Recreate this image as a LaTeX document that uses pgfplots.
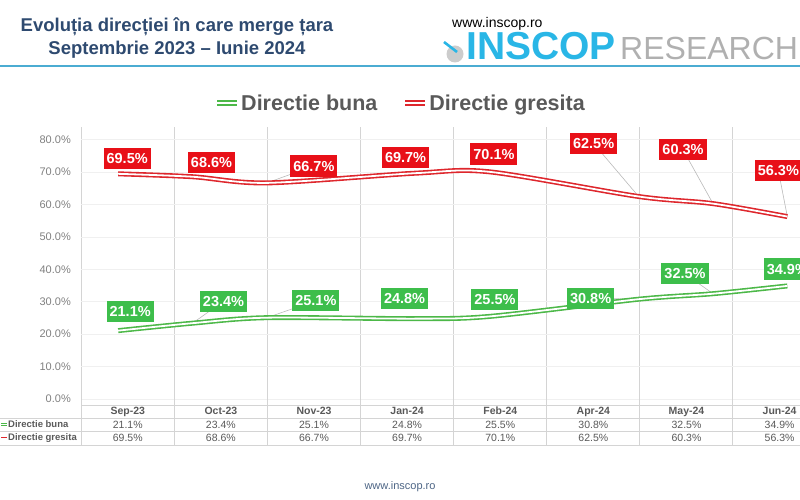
\documentclass[border=0pt]{standalone}
\usepackage{pgfplots}
\pgfplotsset{compat=1.18}
\usepackage{pgfplotstable}
\usepackage{fontspec}
\setmainfont{Liberation Sans}

\definecolor{titleblue}{RGB}{46,74,112}
\definecolor{cyanlogo}{RGB}{41,182,230}
\definecolor{headline}{RGB}{75,172,210}
\definecolor{redline}{RGB}{222,38,44}
\definecolor{redlab}{RGB}{232,16,24}
\definecolor{greenline}{RGB}{76,184,72}
\definecolor{greenlab}{RGB}{61,190,75}
\definecolor{txtgray}{RGB}{89,89,89}
\definecolor{tickgray}{RGB}{128,128,128}
\definecolor{sepgray}{RGB}{212,212,212}

% m = luni de la Sep-23; dx, dy = deplasarea etichetei (pt); lead = linie de legatura
\pgfplotstableread{
m v dx dy lead
0 21.1 12 19 0
1 23.4 31 22 1
2 25.1 49 17 1
4 24.8 -11 20 0
5 25.5 5 17 0
7 30.8 -48 1 1
8 32.5 -28 20 1
9 34.9 0 17 0
}\buna
\pgfplotstableread{
m v dx dy lead
0 69.5 9 15 0
1 68.6 19 14 0
2 66.7 47 17 1
4 69.7 -10 16 0
5 70.1 4 18 0
7 62.5 -45 53 1
8 60.3 -30 54 1
9 56.3 -9 46 1
}\gresita

\begin{document}
\begin{tikzpicture}[x=1pt,y=1pt]
\useasboundingbox (0,0) rectangle (800,500);

% antet
\node[anchor=base, inner sep=0pt, text=titleblue, font=\fontsize{18.5}{21}\selectfont\bfseries] at (177,468) {Evoluția direcției în care merge țara};
\node[anchor=base, inner sep=0pt, text=titleblue, font=\fontsize{18.5}{21}\selectfont\bfseries] at (177,445) {Septembrie 2023 – Iunie 2024};
\node[anchor=base west, inner sep=0pt, font=\fontsize{14}{16}\selectfont] at (452,472) {www.inscop.ro};
\fill[gray!40] (455,446) circle (8.5);
\draw[cyanlogo, line width=2.6pt] (444,458) -- (457,448);
\node[anchor=base west, inner sep=0pt, text=cyanlogo, font=\fontsize{39}{42}\selectfont\bfseries] at (466,440) {INSCOP};
\node[anchor=base west, inner sep=0pt, text=gray!62, font=\fontsize{32}{36}\selectfont] at (620,440) {RESEARCH};
\draw[headline, line width=2pt] (0,433.5) -- (800,433.5);

\begin{axis}[
  at={(81pt,101pt)}, anchor=south west,
  scale only axis, width=745pt, height=272.16pt,
  xmin=-0.5, xmax=9.52, ymin=0, ymax=84,
  clip=false,
  axis line style={draw=none},
  tick style={draw=none},
  ytick={0,10,...,80},
  yticklabel={\pgfmathprintnumber[fixed,fixed zerofill,precision=1]{\tick}\%},
  /pgf/number format/assume math mode=true,
  yticklabel style={inner sep=0pt, xshift=-10pt, text=tickgray, font=\fontsize{11}{13}\selectfont},
  ymajorgrids, major grid style={color=gray!12, line width=0.8pt},
  xtick={0.129,1.381,2.634,3.886,5.139,6.391,7.644,8.896},
  xticklabels={
    {\textbf{Sep-23}\\21.1\%\\69.5\%},
    {\textbf{Oct-23}\\23.4\%\\68.6\%},
    {\textbf{Nov-23}\\25.1\%\\66.7\%},
    {\textbf{Jan-24}\\24.8\%\\69.7\%},
    {\textbf{Feb-24}\\25.5\%\\70.1\%},
    {\textbf{Apr-24}\\30.8\%\\62.5\%},
    {\textbf{May-24}\\32.5\%\\60.3\%},
    {\textbf{Jun-24}\\34.9\%\\56.3\%}},
  xticklabel style={align=center, anchor=north, inner sep=0pt, yshift=-8pt, text=txtgray, font=\fontsize{10.5}{13.5}\selectfont},
  minor xtick={-0.5,0.7525,2.005,3.2575,4.51,5.7625,7.015,8.2675,9.52},
  xminorgrids, minor grid style={color=sepgray, line width=0.8pt},
  legend columns=2,
  legend style={at={(0.4282,1.0876)}, anchor=center, draw=none, fill=none,
    font=\fontsize{21.5}{24}\selectfont\bfseries, text=txtgray,
    nodes={inner sep=1pt},
    /tikz/every even column/.append style={column sep=24pt}},
  legend image code/.code={\draw[#1, line width=2pt, double distance=2pt] (0pt,0pt) -- (20pt,0pt);},
]
% linii de legatura
\addplot[forget plot, gray!55, line width=0.6pt,
  quiver={u=\thisrow{dx}*\thisrow{lead}/74.33, v=\thisrow{dy}*\thisrow{lead}/3.24}]
  table[x=m, y=v] {\buna};
\addplot[forget plot, gray!55, line width=0.6pt,
  quiver={u=\thisrow{dx}*\thisrow{lead}/74.33, v=\thisrow{dy}*\thisrow{lead}/3.24}]
  table[x=m, y=v] {\gresita};

\addplot[greenline, line width=1.6pt, double=white, double distance=1.8pt, smooth] table[x=m, y=v] {\buna};
\addlegendentry{Directie buna}
\addplot[redline, line width=1.6pt, double=white, double distance=1.8pt, smooth] table[x=m, y=v] {\gresita};
\addlegendentry{Directie gresita}

% etichete
\addplot[forget plot, draw=none, mark=none, point meta=explicit,
  visualization depends on={\thisrow{dx}\as\dx},
  visualization depends on={\thisrow{dy}\as\dy},
  nodes near coords={\pgfmathprintnumber[fixed,fixed zerofill,precision=1]{\pgfplotspointmeta}\%},
  every node near coord/.append style={anchor=center, xshift=\dx pt, yshift=\dy pt,
    fill=greenlab, text=white, font=\fontsize{14.5}{16}\selectfont\bfseries,
    inner xsep=3pt, inner ysep=5.5pt, text height=10.3pt, text depth=0pt}]
  table[x=m, y=v, meta=v] {\buna};
\addplot[forget plot, draw=none, mark=none, point meta=explicit,
  visualization depends on={\thisrow{dx}\as\dx},
  visualization depends on={\thisrow{dy}\as\dy},
  nodes near coords={\pgfmathprintnumber[fixed,fixed zerofill,precision=1]{\pgfplotspointmeta}\%},
  every node near coord/.append style={anchor=center, xshift=\dx pt, yshift=\dy pt,
    fill=redlab, text=white, font=\fontsize{14.5}{16}\selectfont\bfseries,
    inner xsep=3pt, inner ysep=5.5pt, text height=10.3pt, text depth=0pt}]
  table[x=m, y=v, meta=v] {\gresita};
\end{axis}

% tabelul de date
\foreach \k in {0,...,8} \draw[sepgray, line width=0.8pt] (81+93.1*\k,55) -- (81+93.1*\k,101);
\draw[sepgray, line width=0.8pt] (81,95) -- (800,95);
\foreach \yy in {82,68.5,55} \draw[sepgray, line width=0.8pt] (0,\yy) -- (800,\yy);
\draw[greenline, line width=0.7pt, double=white, double distance=0.7pt] (1,75.5) -- (7,75.5);
\draw[redline, line width=0.7pt, double=white, double distance=0.7pt] (1,62) -- (7,62);
\node[anchor=west, inner sep=0pt, text=txtgray, font=\fontsize{9.5}{11}\selectfont\bfseries] at (8,75.5) {Directie buna};
\node[anchor=west, inner sep=0pt, text=txtgray, font=\fontsize{9.5}{11}\selectfont\bfseries] at (8,62) {Directie gresita};

% subsol
\node[text=titleblue!85, font=\fontsize{11}{13}\selectfont] at (400,13) {www.inscop.ro};
\end{tikzpicture}
\end{document}
